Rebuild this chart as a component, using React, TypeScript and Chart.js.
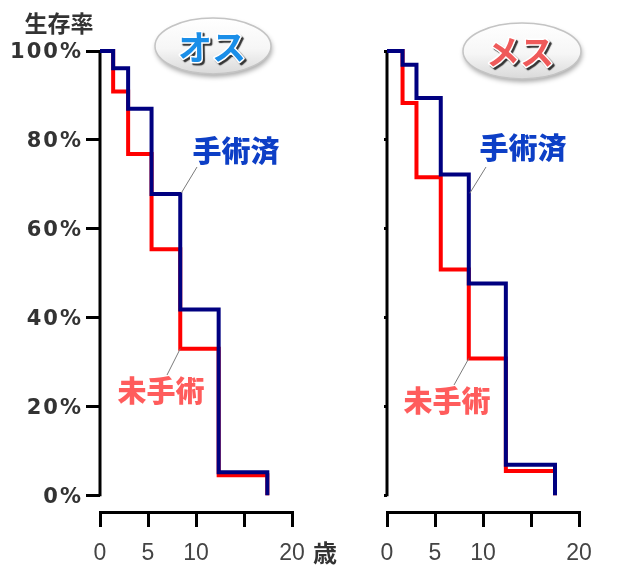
import React, { useEffect, useRef } from 'react';
import { Chart, registerables } from 'chart.js';

Chart.register(...registerables);

const CANVAS_W = 622;
const CANVAS_H = 576;

// ---- data ----
const xTickValues = [0, 5, 10, 15, 20];
const xTickLabels = ['0', '5', '10', '', '20'];
const yTickValues = [0, 20, 40, 60, 80, 100];
const yTickLabels = ['0%', '20%', '40%', '60%', '80%', '100%'];

const maleYears = [0, 1.37, 2.93, 5.37, 8.36, 12.36, 17.43];
const maleOperated = [100, 96.1, 87.0, 67.8, 41.8, 5.2, 0];
const maleUnoperated = [100, 90.9, 76.8, 55.4, 33.0, 4.5, 0];

const femaleYears = [0, 1.62, 3.07, 5.6, 8.52, 12.38, 17.5];
const femaleOperated = [100, 96.9, 89.4, 72.2, 47.7, 6.9, 0];
const femaleUnoperated = [100, 88.3, 71.6, 50.8, 30.8, 5.5, 0];

const BLUE_LINE = '#000080';
const RED_LINE = '#ff0000';
const CJK = '"Noto Sans CJK JP", "Noto Sans CJK SC", sans-serif';

function drawText(ctx: CanvasRenderingContext2D, s: string, x: number, y: number, font: string, color: string) {
  ctx.save();
  ctx.font = font;
  ctx.fillStyle = color;
  ctx.textAlign = 'center';
  ctx.textBaseline = 'middle';
  ctx.fillText(s, x, y);
  ctx.restore();
}

function drawLeader(ctx: CanvasRenderingContext2D, x1: number, y1: number, x2: number, y2: number) {
  ctx.save();
  ctx.strokeStyle = '#7a7a7a';
  ctx.lineWidth = 1;
  ctx.beginPath();
  ctx.moveTo(x1, y1);
  ctx.lineTo(x2, y2);
  ctx.stroke();
  ctx.restore();
}

function drawBubble(ctx: CanvasRenderingContext2D, cx: number, cy: number, rx: number, ry: number, label: string, color: string, tx: number, ty: number) {
  ctx.save();
  ctx.shadowColor = 'rgba(0,0,0,0.35)';
  ctx.shadowBlur = 5;
  ctx.shadowOffsetX = 1;
  ctx.shadowOffsetY = 3;
  ctx.beginPath();
  ctx.ellipse(cx, cy, rx, ry, 0, 0, Math.PI * 2);
  const g = ctx.createLinearGradient(0, cy - ry, 0, cy + ry);
  g.addColorStop(0, '#ffffff');
  g.addColorStop(0.55, '#f6f6f6');
  g.addColorStop(1, '#d9d9d9');
  ctx.fillStyle = g;
  ctx.fill();
  ctx.restore();
  ctx.save();
  ctx.beginPath();
  ctx.ellipse(cx, cy, rx, ry, 0, 0, Math.PI * 2);
  ctx.strokeStyle = '#c4c4c4';
  ctx.lineWidth = 1.5;
  ctx.stroke();
  ctx.restore();

  ctx.save();
  ctx.font = `bold 34px ${CJK}`;
  ctx.textAlign = 'center';
  ctx.textBaseline = 'middle';
  ctx.shadowColor = 'rgba(20,20,20,0.85)';
  ctx.shadowBlur = 1;
  ctx.shadowOffsetX = 2;
  ctx.shadowOffsetY = 2;
  ctx.lineJoin = 'round';
  ctx.strokeStyle = '#ffffff';
  ctx.lineWidth = 3;
  ctx.strokeText(label, tx, ty);
  ctx.shadowColor = 'transparent';
  ctx.fillStyle = color;
  ctx.fillText(label, tx, ty);
  ctx.restore();
}

type Panel = {
  years: number[];
  operated: number[];
  unoperated: number[];
  yWidth: number;
  padRight: number;
  showYLabels: boolean;
  yTickLen: number;
  decorate: (chart: any) => void;
};

const leftPanel: Panel = {
  years: maleYears,
  operated: maleOperated,
  unoperated: maleUnoperated,
  yWidth: 100,
  padRight: CANVAS_W - 292,
  showYLabels: true,
  yTickLen: 14,
  decorate: (chart) => {
    const ctx: CanvasRenderingContext2D = chart.ctx;
    const xs = chart.scales.x;
    const ys = chart.scales.y;
    drawText(ctx, '生存率', 59, 23, `bold 23px ${CJK}`, '#333333');
    drawBubble(ctx, 213, 46, 58, 28, 'オス', '#1a8ee8', 212, 47);
    drawText(ctx, '歳', 325, 553, `bold 24px ${CJK}`, '#333333');
    drawLeader(ctx, 197, 167, xs.getPixelForValue(maleYears[4]) + 1, ys.getPixelForValue(maleOperated[3]) - 1);
    drawText(ctx, '手術済', 236, 151, `900 29px ${CJK}`, '#0d3fc6');
    drawLeader(ctx, 167, 375, xs.getPixelForValue(maleYears[4]), ys.getPixelForValue(maleUnoperated[4]));
    drawText(ctx, '未手術', 161, 391, `900 29px ${CJK}`, '#ff5c5c');
  },
};

const rightPanel: Panel = {
  years: femaleYears,
  operated: femaleOperated,
  unoperated: femaleUnoperated,
  yWidth: 387,
  padRight: CANVAS_W - 579,
  showYLabels: false,
  yTickLen: 3,
  decorate: (chart) => {
    const ctx: CanvasRenderingContext2D = chart.ctx;
    const xs = chart.scales.x;
    const ys = chart.scales.y;
    drawBubble(ctx, 522, 51, 59, 28, 'メス', '#ef5a5a', 520, 52);
    drawLeader(ctx, 486, 167, xs.getPixelForValue(femaleYears[4]) + 1, ys.getPixelForValue(68));
    drawText(ctx, '手術済', 523, 148, `900 29px ${CJK}`, '#0d3fc6');
    drawLeader(ctx, 454, 385, xs.getPixelForValue(femaleYears[4]), ys.getPixelForValue(femaleUnoperated[4]));
    drawText(ctx, '未手術', 447, 401, `900 29px ${CJK}`, '#ff5c5c');
  },
};

function buildChart(canvas: HTMLCanvasElement, panel: Panel) {
  const toPoints = (xs: number[], ys: number[]) => xs.map((x, i) => ({ x, y: ys[i] }));
  const overlay = {
    id: 'overlay',
    beforeDatasetsDraw(chart: any) {
      const ctx: CanvasRenderingContext2D = chart.ctx;
      const ys = chart.scales.y;
      const x = chart.chartArea.left;
      ctx.save();
      ctx.strokeStyle = '#000';
      ctx.lineWidth = 3;
      ctx.beginPath();
      ctx.moveTo(x, ys.getPixelForValue(yTickValues[yTickValues.length - 1]) - 1);
      ctx.lineTo(x, ys.getPixelForValue(yTickValues[0]) + 1);
      ctx.stroke();
      ctx.restore();
    },
    afterDatasetsDraw(chart: any) {
      (chart.ctx as any).letterSpacing = '2px';
    },
    afterDraw(chart: any) {
      (chart.ctx as any).letterSpacing = '0px';
      panel.decorate(chart);
    },
  };

  return new Chart(canvas, {
    type: 'line',
    data: {
      datasets: [
        {
          label: '手術済',
          data: toPoints(panel.years, panel.operated),
          borderColor: BLUE_LINE,
          borderWidth: 4,
          stepped: 'before',
          pointRadius: 0,
          fill: false,
          borderJoinStyle: 'miter',
          clip: false,
        },
        {
          label: '未手術',
          data: toPoints(panel.years, panel.unoperated),
          borderColor: RED_LINE,
          borderWidth: 4,
          stepped: 'before',
          pointRadius: 0,
          fill: false,
          borderJoinStyle: 'miter',
          clip: false,
        },
      ],
    } as any,
    options: {
      responsive: false,
      animation: false,
      events: [],
      layout: { padding: { left: 0, top: 51, right: panel.padRight, bottom: 0 } },
      plugins: {
        legend: { display: false },
        tooltip: { enabled: false },
        title: { display: false },
      },
      scales: {
        x: {
          type: 'linear',
          min: 0,
          max: 20,
          position: 'bottom',
          afterBuildTicks: (s: any) => {
            s.ticks = xTickValues.map((v) => ({ value: v }));
          },
          afterFit: (s: any) => {
            s.height = 64;
            s.paddingLeft = 0;
            s.paddingRight = 0;
          },
          grid: { drawOnChartArea: false, drawTicks: true, tickLength: 15, color: '#000', lineWidth: 3 },
          border: { display: true, color: '#000', width: 3 },
          ticks: {
            autoSkip: false,
            maxRotation: 0,
            padding: 13,
            color: '#444444',
            font: { family: '"Liberation Sans", Arial, sans-serif', size: 23 },
            callback: (_v: any, i: number) => xTickLabels[i],
          },
        },
        y: {
          type: 'linear',
          min: -3.75,
          max: 100,
          afterBuildTicks: (s: any) => {
            s.ticks = yTickValues.map((v) => ({ value: v }));
          },
          afterFit: (s: any) => {
            s.width = panel.yWidth;
            s.paddingTop = 0;
            s.paddingBottom = 0;
          },
          grid: { drawOnChartArea: false, drawTicks: true, tickLength: panel.yTickLen, color: '#000', lineWidth: 3 },
          border: { display: false },
          ticks: {
            display: panel.showYLabels,
            z: 1,
            padding: 3,
            labelOffset: 2,
            color: '#333333',
            font: { family: '"DejaVu Sans", Verdana, sans-serif', size: 21, weight: 'bold' },
            callback: (_v: any, i: number) => yTickLabels[i],
          },
        },
      },
    } as any,
    plugins: [overlay],
  });
}

export default function App() {
  const leftRef = useRef<HTMLCanvasElement>(null);
  const rightRef = useRef<HTMLCanvasElement>(null);

  useEffect(() => {
    const a = buildChart(leftRef.current as HTMLCanvasElement, leftPanel);
    const b = buildChart(rightRef.current as HTMLCanvasElement, rightPanel);
    return () => {
      a.destroy();
      b.destroy();
    };
  }, []);

  return (
    <div style={{ position: 'absolute', left: 0, top: 0, width: CANVAS_W, height: CANVAS_H, background: '#ffffff' }}>
      <canvas ref={leftRef} width={CANVAS_W} height={CANVAS_H} style={{ position: 'absolute', left: 0, top: 0 }} />
      <canvas ref={rightRef} width={CANVAS_W} height={CANVAS_H} style={{ position: 'absolute', left: 0, top: 0 }} />
    </div>
  );
}
